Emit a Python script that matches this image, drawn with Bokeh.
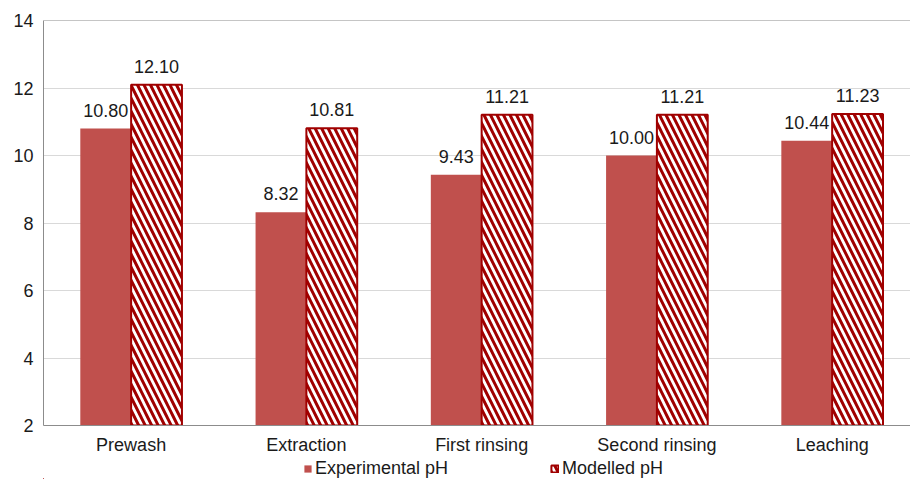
from bokeh.plotting import figure
from bokeh.layouts import column
from bokeh.models import (ColumnDataSource, Range1d, FixedTicker, Legend, LegendItem, Span)
from bokeh.core.properties import value
from bokeh.embed import file_html
from bokeh.resources import INLINE

# Data
categories = ["Prewash", "Extraction", "First rinsing", "Second rinsing", "Leaching"]
experimental_ph = [10.80, 8.32, 9.43, 10.00, 10.44]
modelled_ph = [12.10, 10.81, 11.21, 11.21, 11.23]
y_ticks = [2, 4, 6, 8, 10, 12, 14]
series_names = ["Experimental pH", "Modelled pH"]

FONT = "Liberation Sans"
TEXT_COLOR = "#1A1A1A"
EXP_COLOR = "#C0504D"
MOD_COLOR = "#A00000"
BAR_W = 0.29

EXP_STYLE = dict(fill_color=EXP_COLOR, line_color=None)
MOD_STYLE = dict(fill_color="white", line_color=MOD_COLOR, line_width=2,
                 hatch_pattern="left_diagonal_line", hatch_color=MOD_COLOR,
                 hatch_weight=3, hatch_scale=13)

idx = list(range(len(categories)))
src = ColumnDataSource(dict(
    x_exp=[i - BAR_W / 2 for i in idx],
    x_mod=[i + BAR_W / 2 for i in idx],
    exp=experimental_ph,
    mod=modelled_ph,
    exp_lbl=[f"{v:.2f}" for v in experimental_ph],
    mod_lbl=[f"{v:.2f}" for v in modelled_ph],
))

p = figure(width=910, height=457, output_backend="svg", toolbar_location=None,
           x_range=Range1d(-0.5, 4.447), y_range=Range1d(y_ticks[0], y_ticks[-1]),
           min_border_left=43, min_border_right=0, min_border_top=20, min_border_bottom=30)
p.outline_line_color = None
p.background_fill_color = "white"
p.border_fill_color = "white"

p.vbar(x="x_exp", top="exp", bottom=y_ticks[0], width=BAR_W, source=src, **EXP_STYLE)
p.vbar(x="x_mod", top="mod", bottom=y_ticks[0], width=BAR_W, source=src, **MOD_STYLE)

# value labels above each bar
for xcol, ycol, lcol in (("x_exp", "exp", "exp_lbl"), ("x_mod", "mod", "mod_lbl")):
    p.text(x=xcol, y=ycol, text=lcol, source=src, y_offset=-12,
           text_align="center", text_baseline="bottom",
           text_font=value(FONT), text_font_size="18px", text_color=TEXT_COLOR)

# top border of the plot area
p.add_layout(Span(location=y_ticks[-1], dimension="width", line_color="#8C8C8C", line_width=1))

# axes
p.yaxis.ticker = FixedTicker(ticks=y_ticks)
p.xaxis.ticker = FixedTicker(ticks=idx)
p.xaxis.major_label_overrides = {i: c for i, c in zip(idx, categories)}
for ax in (p.xaxis[0], p.yaxis[0]):
    ax.axis_line_color = "#8C8C8C"
    ax.axis_line_width = 1
    ax.major_tick_line_color = None
    ax.minor_tick_line_color = None
    ax.major_tick_in = 0
    ax.major_tick_out = 0
    ax.minor_tick_in = 0
    ax.minor_tick_out = 0
    ax.major_label_text_font = FONT
    ax.major_label_text_font_size = "18px"
    ax.major_label_text_color = TEXT_COLOR
p.yaxis.major_label_standoff = 10
p.xaxis.major_label_standoff = 9

p.xgrid.grid_line_color = None
p.ygrid.grid_line_color = "#D9D9D9"
p.ygrid.grid_line_width = 1

# legend strip under the chart; its glyphs share the bar styles but lie
# outside this strip's ranges, so only the legend itself is seen
leg = figure(width=910, height=22, output_backend="svg", toolbar_location=None,
             x_range=Range1d(100, 101), y_range=Range1d(100, 101),
             min_border=0, min_border_left=0, min_border_right=0,
             min_border_top=0, min_border_bottom=0)
leg.axis.visible = False
leg.grid.visible = False
leg.outline_line_color = None
leg.border_fill_color = "white"
g_exp = leg.vbar(x="x_exp", top="exp", bottom=y_ticks[0], width=BAR_W, source=src, **EXP_STYLE)
g_mod = leg.vbar(x="x_mod", top="mod", bottom=y_ticks[0], width=BAR_W, source=src, **MOD_STYLE)

legend = Legend(items=[LegendItem(label=series_names[0], renderers=[g_exp], index=0),
                       LegendItem(label=series_names[1], renderers=[g_mod], index=0)],
                orientation="horizontal", location=(260, 0),
                border_line_color=None, background_fill_alpha=0,
                margin=0, padding=0, spacing=102,
                glyph_width=9, glyph_height=9, label_standoff=3, label_height=18,
                label_text_font=FONT, label_text_font_size="18px",
                label_text_color=TEXT_COLOR)
leg.add_layout(legend)

open("out.html", "w").write(file_html(column(p, leg, spacing=0), INLINE))
